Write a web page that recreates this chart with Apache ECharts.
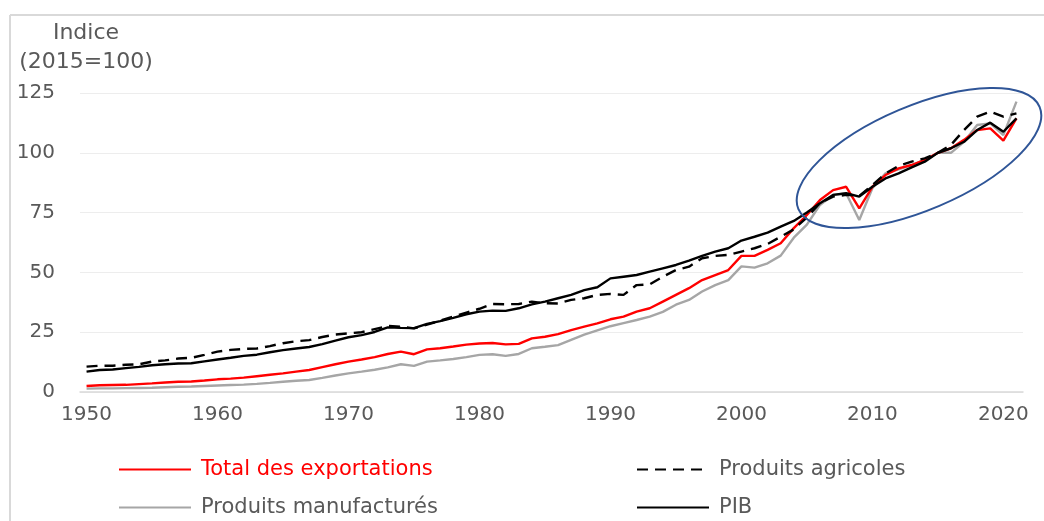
<!DOCTYPE html>
<html>
<head>
<meta charset="utf-8">
<script src="https://cdn.jsdelivr.net/npm/echarts@6/dist/echarts.min.js"></script>
<style>
html,body{margin:0;padding:0;background:#fff;}
#chart{width:1044px;height:521px;}
</style>
</head>
<body>
<div id="chart"></div>
<script>
// ---- Data (index 2015 = 100) ----
const years = [];
for (let y = 1950; y <= 2021; y++) years.push(String(y));

const totalExports = [2.5,2.8,2.9,3.0,3.3,3.6,4.0,4.3,4.4,4.8, 5.3,5.6,6.0,6.6,7.2,7.8,8.5,9.2,10.4,11.6, 12.7,13.6,14.6,15.9,16.9,15.8,17.8,18.3,19.0,19.8, 20.3,20.5,19.9,20.1,22.4,23.1,24.2,25.9,27.3,28.7, 30.4,31.5,33.6,35.0,37.8,40.6,43.4,46.8,48.9,51.0, 56.9,56.9,59.4,62.2,68.5,74.0,80.3,84.4,85.8,76.8, 85.8,90.7,93.5,94.9,97.0,100,101.9,105.4,109.5,110.2, 105.1,114.4];

const agricultural = [10.6,11.0,11.0,11.4,11.6,12.7,13.2,14.0,14.3,15.5, 16.9,17.6,18.0,18.2,19.2,20.4,21.2,21.7,23.0,24.0, 24.5,25.0,26.3,27.6,27.3,26.6,28.2,29.8,31.5,33.2, 34.8,36.8,36.7,36.8,37.8,37.1,37.0,38.5,39.2,40.6, 41.0,40.6,44.7,45.0,48.2,51.0,52.4,55.9,56.9,57.3, 58.7,60.1,61.9,64.9,68.0,73.0,79.0,81.7,82.4,82.0, 86.5,91.4,94.5,96.3,97.7,100,103.3,109.5,115.1,117.2, 115.1,116.5];

const manufactured = [1.4,1.5,1.5,1.6,1.7,1.8,2.0,2.2,2.3,2.5, 2.7,2.9,3.1,3.4,3.8,4.3,4.7,5.0,5.9,6.9, 7.8,8.5,9.3,10.3,11.6,10.9,12.7,13.2,13.8,14.6, 15.5,15.8,15.1,15.9,18.3,18.9,19.6,21.8,24.0,25.8, 27.5,28.8,30.1,31.5,33.5,36.5,38.5,42.0,44.7,46.8, 52.5,52.0,53.8,57.0,64.5,70.0,78.2,82.4,83.0,71.9, 85.2,91.4,93.1,94.9,97.0,100,100.0,104.6,111.6,112.3, 107.4,121.4];

const gdp = [8.5,9.2,9.4,10.0,10.5,11.2,11.6,11.9,12.0,12.8, 13.6,14.3,15.1,15.6,16.6,17.5,18.2,18.8,20.0,21.5, 22.9,23.8,25.1,27.0,26.8,26.7,28.5,29.6,31.0,32.5, 33.6,34.0,33.9,35.0,36.6,37.8,39.2,40.6,42.6,43.8, 47.5,48.2,48.9,50.3,51.7,53.1,54.9,56.9,58.7,60.1, 63.3,64.9,66.6,69.1,71.5,75.0,78.9,82.4,83.1,81.7, 85.8,89.3,91.4,93.9,96.3,100,101.9,104.6,109.5,112.6, 108.8,114.4];

const names = ['Total des exportations', 'Produits agricoles', 'Produits manufacturés', 'PIB'];
const yTicks = [0, 25, 50, 75, 100, 125];

const FONT = 'DejaVu Sans';
const chart = echarts.init(document.getElementById('chart'), null, {renderer: 'canvas'});

function legendAt(name, left, top, color) {
  return {
    data: [name], left: left, top: top, orient: 'horizontal',
    itemWidth: 72, itemHeight: 14, padding: 0,
    itemStyle: {opacity: 0},
    textStyle: {fontFamily: FONT, fontSize: 21, color: color, padding: [0, 0, 0, 5]},
    selectedMode: false
  };
}

const option = {
  animation: false,
  backgroundColor: '#ffffff',
  grid: {left: 80, right: 21, top: 93, bottom: 129, containLabel: false},
  xAxis: {
    type: 'category', data: years, boundaryGap: true,
    axisLine: {show: true, lineStyle: {color: '#D9D9D9', width: 1.5}},
    axisTick: {show: false},
    axisLabel: {interval: 9, color: '#595959', fontFamily: FONT, fontSize: 20, margin: 13},
    splitLine: {show: false}
  },
  yAxis: {
    type: 'value', min: yTicks[0], max: yTicks[yTicks.length - 1], interval: 25,
    axisLine: {show: false}, axisTick: {show: false},
    axisLabel: {color: '#595959', fontFamily: FONT, fontSize: 20, margin: 25},
    splitLine: {show: true, lineStyle: {color: '#EDEDED', width: 1.2}}
  },
  legend: [
    legendAt(names[0], 118, 459, '#FF0000'),
    legendAt(names[1], 636, 459, '#595959'),
    legendAt(names[2], 118, 497, '#595959'),
    legendAt(names[3], 636, 497, '#595959')
  ],
  graphic: [
    {type: 'line', shape: {x1: 10, y1: 15, x2: 1044, y2: 15}, style: {stroke: '#D9D9D9', lineWidth: 2}, silent: true},
    {type: 'line', shape: {x1: 10, y1: 15, x2: 10, y2: 521}, style: {stroke: '#D9D9D9', lineWidth: 2}, silent: true},
    {type: 'text', x: 86, y: 33, style: {text: 'Indice', fontFamily: FONT, fontSize: 22, fill: '#595959', textAlign: 'center', textVerticalAlign: 'middle'}},
    {type: 'text', x: 86, y: 62, style: {text: '(2015=100)', fontFamily: FONT, fontSize: 22, fill: '#595959', textAlign: 'center', textVerticalAlign: 'middle'}},
    {type: 'ellipse', x: 919, y: 158, rotation: 23 * Math.PI / 180, z: 100,
     shape: {cx: 0, cy: 0, rx: 131, ry: 52},
     style: {fill: 'none', stroke: '#2F5597', lineWidth: 2}, silent: true}
  ],
  series: [
    {name: names[0], type: 'line', data: totalExports, symbol: 'none', z: 4,
     lineStyle: {color: '#FF0000', width: 2.4}, itemStyle: {color: '#FF0000'}},
    {name: names[1], type: 'line', data: agricultural, symbol: 'none', z: 5,
     lineStyle: {color: '#000000', width: 2.4, type: [11, 7]}, itemStyle: {color: '#000000'}},
    {name: names[2], type: 'line', data: manufactured, symbol: 'none', z: 3,
     lineStyle: {color: '#A6A6A6', width: 2.4}, itemStyle: {color: '#A6A6A6'}},
    {name: names[3], type: 'line', data: gdp, symbol: 'none', z: 6,
     lineStyle: {color: '#000000', width: 2.4}, itemStyle: {color: '#000000'}}
  ]
};
chart.setOption(option);
</script>
</body>
</html>
